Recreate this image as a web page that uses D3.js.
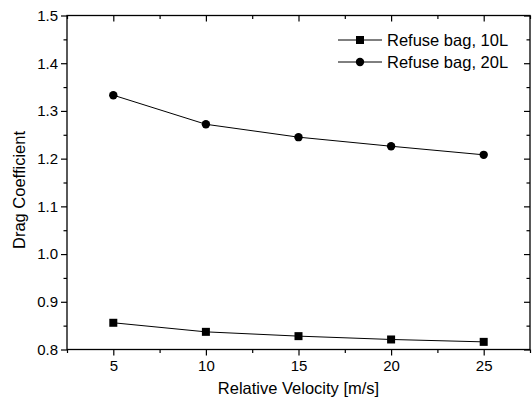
<!DOCTYPE html>
<html>
<head>
<meta charset="utf-8">
<script src="https://cdn.jsdelivr.net/npm/d3@7"></script>
<style>
  body { margin: 0; background: #fff; }
  svg { display: block; }
  svg text { font-family: "Liberation Sans", Arial, sans-serif; }
</style>
</head>
<body>
<div id="chart"></div>
<script>
const velocities = [5, 10, 15, 20, 25];
const bag10L = [0.856, 0.837, 0.828, 0.821, 0.816];
const bag20L = [1.333, 1.272, 1.245, 1.226, 1.208];
const seriesNames = ["Refuse bag, 10L", "Refuse bag, 20L"];
const xMajor = [5, 10, 15, 20, 25];
const xMinor = [2.5, 7.5, 12.5, 17.5, 22.5, 27.5];
const yMajor = [0.8, 0.9, 1.0, 1.1, 1.2, 1.3, 1.4, 1.5];
const yMinor = [0.85, 0.95, 1.05, 1.15, 1.25, 1.35, 1.45];

const width = 532, height = 403;
const margin = { top: 15.5, right: 2, bottom: 53.5, left: 67 };
const innerWidth = width - margin.left - margin.right;
const innerHeight = height - margin.top - margin.bottom;

const svg = d3.select("#chart")
    .append("svg")
    .attr("width", width)
    .attr("height", height);

const graph = svg.append("g")
    .attr("transform", "translate(" + margin.left + "," + margin.top + ")");

const x = d3.scaleLinear().domain([2.5, 27.5]).range([0, innerWidth]);
const y = d3.scaleLinear().domain([0.8, 1.5]).range([innerHeight, 0]);

function styleAxis(g) {
    g.attr("font-family", null).attr("font-size", null);
    g.select(".domain").remove();
    g.selectAll(".tick line").attr("stroke", "#000").attr("stroke-width", 1.2);
    g.selectAll(".tick text").attr("fill", "#000").style("font-size", "15px");
}

// bottom axis (outward ticks)
graph.append("g")
    .attr("transform", "translate(0," + innerHeight + ")")
    .call(d3.axisBottom(x).tickValues(xMajor).tickSize(6).tickPadding(5).tickFormat(d3.format("d")))
    .call(styleAxis);
graph.append("g")
    .attr("transform", "translate(0," + innerHeight + ")")
    .call(d3.axisBottom(x).tickValues(xMinor).tickSize(3.5).tickFormat(""))
    .call(styleAxis);

// left axis (outward ticks)
graph.append("g")
    .call(d3.axisLeft(y).tickValues(yMajor).tickSize(6).tickPadding(3).tickFormat(d3.format(".1f")))
    .call(styleAxis);
graph.append("g")
    .call(d3.axisLeft(y).tickValues(yMinor).tickSize(3.5).tickFormat(""))
    .call(styleAxis);

// top axis (inward ticks)
graph.append("g")
    .call(d3.axisTop(x).tickValues(xMajor).tickSize(-6).tickFormat(""))
    .call(styleAxis);
graph.append("g")
    .call(d3.axisTop(x).tickValues(xMinor).tickSize(-3.5).tickFormat(""))
    .call(styleAxis);

// right axis (inward ticks)
graph.append("g")
    .attr("transform", "translate(" + innerWidth + ",0)")
    .call(d3.axisRight(y).tickValues(yMajor).tickSize(-6).tickFormat(""))
    .call(styleAxis);
graph.append("g")
    .attr("transform", "translate(" + innerWidth + ",0)")
    .call(d3.axisRight(y).tickValues(yMinor).tickSize(-3.5).tickFormat(""))
    .call(styleAxis);

// frame
graph.append("rect")
    .attr("width", innerWidth)
    .attr("height", innerHeight)
    .attr("fill", "none")
    .attr("stroke", "#000")
    .attr("stroke-width", 1.3);

// axis titles
graph.append("text")
    .attr("x", innerWidth / 2)
    .attr("y", innerHeight + 44)
    .attr("text-anchor", "middle")
    .style("font-size", "16.5px")
    .text("Relative Velocity [m/s]");

svg.append("text")
    .attr("transform", "translate(25,190) rotate(-90)")
    .attr("text-anchor", "middle")
    .style("font-size", "16.5px")
    .text("Drag Coefficient");

// lines and markers
const line = d3.line().x(d => x(d[0])).y(d => y(d[1]));
const s10 = velocities.map((v, i) => [v, bag10L[i]]);
const s20 = velocities.map((v, i) => [v, bag20L[i]]);

[s10, s20].forEach(s => {
    graph.append("path")
        .datum(s)
        .attr("d", line)
        .attr("fill", "none")
        .attr("stroke", "#000")
        .attr("stroke-width", 1);
});

graph.selectAll(".sq")
    .data(s10)
    .enter()
    .append("rect")
    .attr("x", d => x(d[0]) - 4)
    .attr("y", d => y(d[1]) - 4)
    .attr("width", 8)
    .attr("height", 8)
    .attr("fill", "#000");

graph.selectAll(".dot")
    .data(s20)
    .enter()
    .append("circle")
    .attr("cx", d => x(d[0]))
    .attr("cy", d => y(d[1]))
    .attr("r", 4.2)
    .attr("fill", "#000");

// legend
const legend = svg.append("g").attr("transform", "translate(338,40)");
seriesNames.forEach((name, i) => {
    const row = legend.append("g").attr("transform", "translate(0," + i * 22 + ")");
    row.append("line")
        .attr("x1", 0).attr("x2", 44)
        .attr("stroke", "#000").attr("stroke-width", 1);
    if (i === 0) {
        row.append("rect").attr("x", 18).attr("y", -4).attr("width", 8).attr("height", 8).attr("fill", "#000");
    } else {
        row.append("circle").attr("cx", 22).attr("r", 4.2).attr("fill", "#000");
    }
    row.append("text")
        .attr("x", 49)
        .attr("y", 6)
        .style("font-size", "16.5px")
        .text(name);
});
</script>
</body>
</html>
